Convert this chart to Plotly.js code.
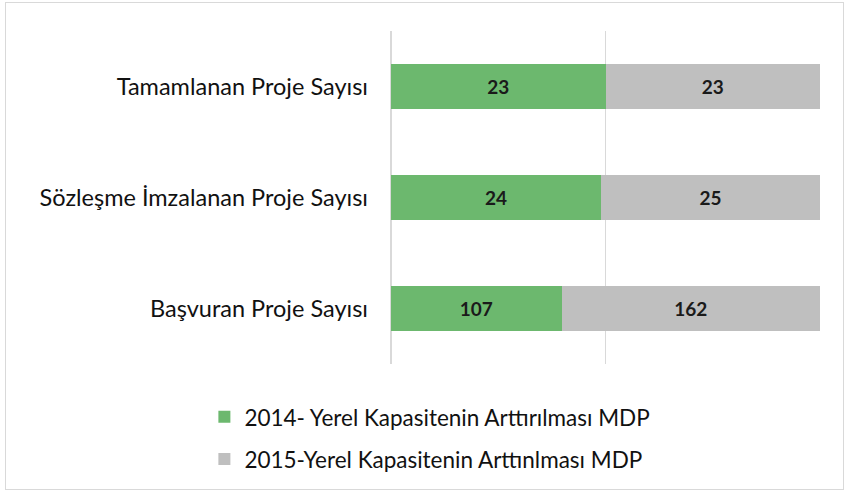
<!DOCTYPE html>
<html><head><meta charset="utf-8">
<script src="https://cdn.plot.ly/plotly-3.0.1.min.js"></script>
<style>
html,body{margin:0;padding:0;background:#fff;}
#wrap{position:relative;width:846px;height:493px;}
#chart{width:846px;height:493px;}
#frame{position:absolute;left:5px;top:2px;width:839px;height:488px;border:1px solid #d9d9d9;box-sizing:border-box;pointer-events:none;}
</style></head>
<body>
<div id="wrap"><div id="chart"></div><div id="frame"></div></div>
<script>
const categories = ["Başvuran Proje Sayısı", "Sözleşme İmzalanan Proje Sayısı", "Tamamlanan Proje Sayısı"];
const series2014 = [107, 24, 23];
const series2015 = [162, 25, 23];
const name2014 = "2014- Yerel Kapasitenin Arttırılması MDP";
const name2015 = "2015-Yerel Kapasitenin Arttınlması MDP";

const labelFont = {family: "Lato, 'Open Sans', sans-serif", size: 23.5, color: "#111111"};
const legendFont = {family: "Lato, 'Open Sans', sans-serif", size: 22.5, color: "#111111"};
const valueFont = {family: "Lato, 'Open Sans', sans-serif", size: 19, color: "#1a1a1a", weight: "bold"};

const traces = [
  {type: "bar", orientation: "h", name: name2014, y: categories, x: series2014,
   marker: {color: "#6cb86e"}, text: series2014.map(String), textposition: "inside",
   insidetextanchor: "middle", textfont: valueFont, legendgroup: "a", hoverinfo: "x+y"},
  {type: "bar", orientation: "h", name: name2015, y: categories, x: series2015,
   marker: {color: "#bfbfbf"}, text: series2015.map(String), textposition: "inside",
   insidetextanchor: "middle", textfont: valueFont, legendgroup: "b", hoverinfo: "x+y"}
];

const layout = {
  width: 846, height: 493,
  margin: {l: 391, r: 26, t: 31, b: 129, pad: 0, autoexpand: false},
  paper_bgcolor: "#fff", plot_bgcolor: "#fff",
  barmode: "stack", barnorm: "percent", bargap: 0.6,
  font: labelFont,
  xaxis: {range: [0, 100], tickvals: [0, 50, 100], showticklabels: false,
          showgrid: true, gridcolor: "#d9d9d9", gridwidth: 1.3,
          zeroline: true, zerolinecolor: "#d9d9d9", zerolinewidth: 1.3, fixedrange: true},
  yaxis: {type: "category", range: [-0.5, 2.5], showgrid: false, zeroline: false,
          ticks: "", ticklabelstandoff: 22, tickfont: labelFont, fixedrange: true},
  showlegend: true,
  legend: {orientation: "v", x: -0.435, xanchor: "left", y: -0.095, yanchor: "top",
           traceorder: "grouped", tracegroupgap: 10, font: legendFont, bgcolor: "rgba(0,0,0,0)"}
};

Plotly.newPlot("chart", traces, layout, {displayModeBar: false, staticPlot: true});
</script>
</body></html>
